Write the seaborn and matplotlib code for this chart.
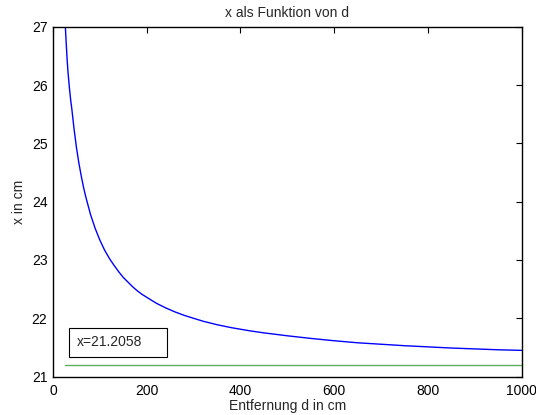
import matplotlib
matplotlib.use("Agg")
import matplotlib.pyplot as plt
import seaborn as sns
from matplotlib.patches import Rectangle

# =====================================
# Data
# =====================================

d_values = [26, 28, 30, 32, 35, 38, 40, 45, 50, 55, 60, 65, 70, 80, 90, 100,
            110, 120, 130, 140, 150, 160, 170, 180, 190, 200, 220, 240, 260,
            280, 300, 320, 350, 380, 420, 450, 500, 550, 600, 650, 700, 750,
            800, 850, 900, 950, 1000]
x_values = [27.05, 26.74, 26.45, 26.22, 25.95, 25.72, 25.60, 25.24, 24.93,
            24.67, 24.45, 24.25, 24.08, 23.78, 23.54, 23.34, 23.17, 23.03,
            22.91, 22.80, 22.70, 22.62, 22.54, 22.47, 22.41, 22.36, 22.26,
            22.18, 22.11, 22.05, 22.00, 21.95, 21.89, 21.84, 21.785, 21.75,
            21.70, 21.655, 21.615, 21.58, 21.555, 21.53, 21.51, 21.49, 21.475,
            21.46, 21.45]

limit_d = [26, 1000]
limit_x = [21.2058, 21.2058]
limit_label = "x=21.2058"

x_ticks = [0, 200, 400, 600, 800, 1000]
y_ticks = [21, 22, 23, 24, 25, 26, 27]

# =====================================
# Style
# =====================================

sns.set_style("white")
plt.rcParams["font.family"] = ["Liberation Sans", "DejaVu Sans"]
plt.rcParams["font.size"] = 10

fig = plt.figure(figsize=(5.36, 4.15), dpi=100)
ax = fig.add_axes([0.0989, 0.0925, 0.8744, 0.8432])

# =====================================
# Plot
# =====================================

sns.lineplot(x=d_values, y=x_values, color="blue", linewidth=1.0, ax=ax)
sns.lineplot(x=limit_d, y=limit_x, color="#5cb05c", linewidth=1.0, ax=ax)

ax.set_xlim(0, 1000)
ax.set_ylim(21, 27)
ax.set_xticks(x_ticks)
ax.set_yticks(y_ticks)

ax.tick_params(direction="in", length=4, width=0.8, top=True, right=True,
               labelsize=10, colors="black")
ax.tick_params(axis="x", pad=5)
ax.tick_params(axis="y", pad=4)
for side in ax.spines.values():
    side.set_color("black")
    side.set_linewidth(1.0)
    side.set_visible(True)

ax.set_title("x als Funktion von d", fontsize=10, pad=7)
ax.set_xlabel("Entfernung d in cm", fontsize=10, labelpad=1)
ax.set_ylabel("x in cm", fontsize=10, labelpad=4)

# text box
ax.add_patch(Rectangle((0.035, 0.057), 0.209, 0.083, transform=ax.transAxes,
                       facecolor="white", edgecolor="black", linewidth=0.8))
ax.text(0.051, 0.099, limit_label, transform=ax.transAxes, fontsize=10,
        va="center", ha="left")

fig.savefig("out.png", dpi=100)
plt.close()
